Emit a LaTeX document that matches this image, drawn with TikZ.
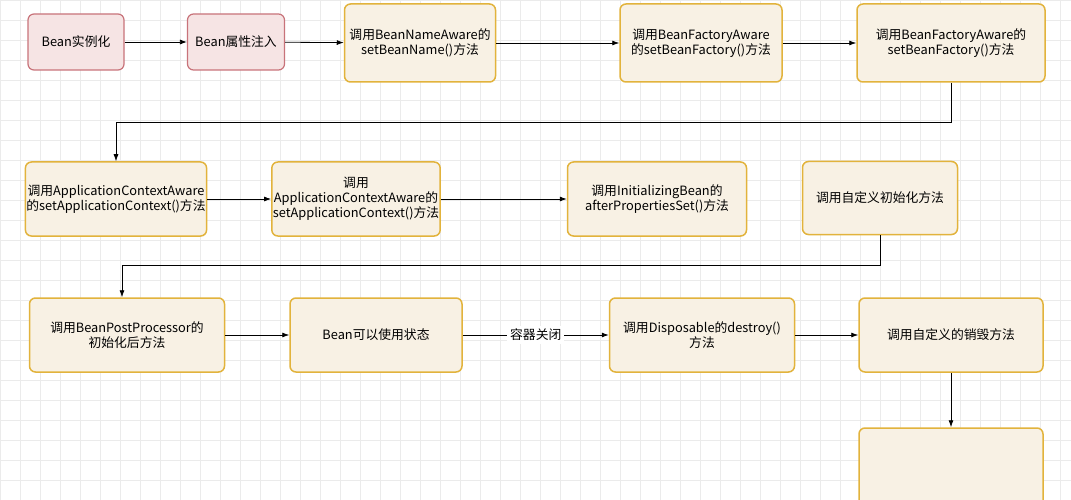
\documentclass[tikz,border=0pt]{standalone}
\usepackage{fontspec}
\setmainfont{Noto Sans CJK SC}
\usetikzlibrary{arrows.meta}
\definecolor{redline}{HTML}{C8737A}
\definecolor{redfill}{HTML}{F6E4E4}
\definecolor{goldline}{HTML}{E2B33C}
\definecolor{goldfill}{HTML}{F8F1E4}
\tikzset{
  redbox/.style={draw=redline, fill=redfill, line width=1.2pt, rounded corners=6pt, align=center, inner sep=1pt, font=\fontsize{12.8}{15}\selectfont},
  goldbox/.style={draw=goldline, fill=goldfill, line width=1.5pt, rounded corners=6pt, align=center, inner sep=1pt, font=\fontsize{12.8}{15}\selectfont},
  flow/.style={-{Latex[length=7pt,width=5pt]}, line width=0.8pt}
}
\begin{document}
\begin{tikzpicture}[x=1pt,y=-1pt]
  \useasboundingbox (0,0) rectangle (1071,500);
  % Background grid
  \fill[white] (0,0) rectangle (1071,500);
  \draw[black!8, line width=0.4pt, step=20pt] (0,0) grid (1071,500);

  % Row 1
  \node[redbox, minimum width=96pt, minimum height=56pt] (inst) at (76,42) {Bean实例化};
  \node[redbox, minimum width=97pt, minimum height=56pt] (inject) at (236,42) {Bean属性注入};
  \node[goldbox, minimum width=151pt, minimum height=78pt] (nameaware) at (420,43) {调用BeanNameAware的\\setBeanName()方法};
  \node[goldbox, minimum width=162pt, minimum height=78pt] (factaware) at (701,43) {调用BeanFactoryAware\\的setBeanFactory()方法};
  \node[goldbox, minimum width=188pt, minimum height=78pt] (factaware2) at (951,43) {调用BeanFactoryAware的\\setBeanFactory()方法};

  % Row 2
  \node[goldbox, minimum width=176pt, minimum height=74pt] (ctxaware) at (116,199) {调用ApplicationContextAware\\的setApplicationContext()方法};
  \node[goldbox, minimum width=160pt, minimum height=74pt] (ctxaware2) at (356,199) {调用\\ApplicationContextAware的\\setApplicationContext()方法};
  \node[goldbox, minimum width=179pt, minimum height=74pt] (initbean) at (657,199) {调用InitializingBean的\\afterPropertiesSet()方法};
  \node[goldbox, minimum width=155pt, minimum height=73pt] (initmethod) at (880,198) {调用自定义初始化方法};

  % Row 3
  \node[goldbox, minimum width=195pt, minimum height=74pt] (postproc) at (127,335) {调用BeanPostProcessor的\\初始化后方法};
  \node[goldbox, minimum width=172pt, minimum height=74pt] (ready) at (376,335) {Bean可以使用状态};
  \node[goldbox, minimum width=185pt, minimum height=74pt] (dispose) at (702,335) {调用Disposable的destroy()\\方法};
  \node[goldbox, minimum width=184pt, minimum height=74pt] (destroy) at (951,335) {调用自定义的销毁方法};

  % Row 4
  \node[goldbox, minimum width=184pt, minimum height=80pt] (last) at (951,468) {};

  % Connectors
  \draw[flow] (inst) -- (inject);
  \draw[flow] (inject) -- (nameaware);
  \draw[flow] (nameaware) -- (factaware);
  \draw[flow] (factaware) -- (factaware2);
  \draw[flow] (factaware2.south) |- (116,122) -- (ctxaware.north);
  \draw[flow] (ctxaware) -- (ctxaware2);
  \draw[flow] (ctxaware2) -- (initbean);
  \draw[flow] (initmethod.south) |- (122,265) -- (postproc.north -| 122,0);
  \draw[flow] (postproc) -- (ready);
  \draw[flow] (ready) -- node[fill=white, font=\fontsize{12.8}{15}\selectfont, inner sep=3pt] {容器关闭} (dispose);
  \draw[flow] (dispose) -- (destroy);
  \draw[flow] (destroy) -- (last);
\end{tikzpicture}
\end{document}
